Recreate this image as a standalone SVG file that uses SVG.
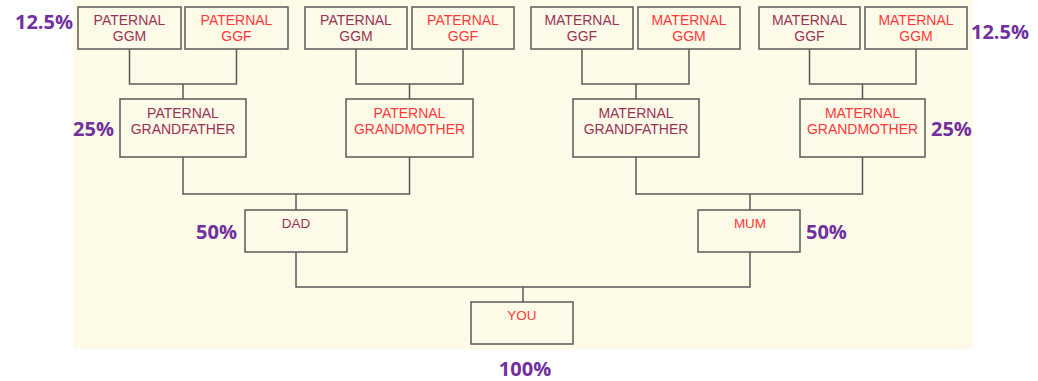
<svg xmlns="http://www.w3.org/2000/svg" width="1038" height="381" viewBox="0 0 1038 381">
<style>
.bx{fill:#FEFAE8;stroke:#5a5a5a;stroke-width:1.5}
.t{font-family:"Liberation Sans",Arial,sans-serif;font-size:14px;text-anchor:middle}
.s{font-size:13.5px}
.d{fill:#993355}
.r{fill:#FF3838}
.p{font-family:"Open Sans","Liberation Sans",sans-serif;font-weight:bold;font-size:20px;fill:#7030A0}
.e{text-anchor:end}
.m{text-anchor:middle}
.c{fill:none;stroke:#5a5a5a;stroke-width:1.5}
</style>
<rect x="73" y="0" width="900" height="349" fill="#FEFAE8"/>
<g id="connectors" class="c">
<path d="M129.5,49V84H236.5V49M183,84V99"/>
<path d="M356,49V84H463V49M409.5,84V99"/>
<path d="M582,49V84H689V49M636,84V99"/>
<path d="M809.5,49V84H916V49M862.5,84V99"/>
<path d="M183,157V194H409.5V157M296,194V210"/>
<path d="M636,157V194H862.5V157M750,194V210"/>
<path d="M296,252V287H750V252M523,287V302"/>
</g>
<g id="pggm1"><rect class="bx" x="78" y="7" width="103" height="42"/><text class="t d" x="129.5" y="25">PATERNAL</text><text class="t d" x="129.5" y="41">GGM</text></g>
<g id="pggf1"><rect class="bx" x="185" y="7" width="103" height="42"/><text class="t r" x="236.5" y="25">PATERNAL</text><text class="t r" x="236.5" y="41">GGF</text></g>
<g id="pggm2"><rect class="bx" x="305" y="7" width="102" height="42"/><text class="t d" x="356" y="25">PATERNAL</text><text class="t d" x="356" y="41">GGM</text></g>
<g id="pggf2"><rect class="bx" x="412" y="7" width="102" height="42"/><text class="t r" x="463" y="25">PATERNAL</text><text class="t r" x="463" y="41">GGF</text></g>
<g id="mggf1"><rect class="bx" x="531" y="7" width="102" height="42"/><text class="t d" x="582" y="25">MATERNAL</text><text class="t d" x="582" y="41">GGF</text></g>
<g id="mggm1"><rect class="bx" x="638" y="7" width="102" height="42"/><text class="t r" x="689" y="25">MATERNAL</text><text class="t r" x="689" y="41">GGM</text></g>
<g id="mggf2"><rect class="bx" x="759" y="7" width="101" height="42"/><text class="t d" x="809.5" y="25">MATERNAL</text><text class="t d" x="809.5" y="41">GGF</text></g>
<g id="mggm2"><rect class="bx" x="865" y="7" width="102" height="42"/><text class="t r" x="916" y="25">MATERNAL</text><text class="t r" x="916" y="41">GGM</text></g>
<g id="pgf"><rect class="bx" x="120" y="99" width="126" height="58"/><text class="t d" x="183" y="118">PATERNAL</text><text class="t d" x="183" y="134">GRANDFATHER</text></g>
<g id="pgm"><rect class="bx" x="346" y="99" width="127" height="58"/><text class="t r" x="409.5" y="118">PATERNAL</text><text class="t r" x="409.5" y="134">GRANDMOTHER</text></g>
<g id="mgf"><rect class="bx" x="573" y="99" width="126" height="58"/><text class="t d" x="636" y="118">MATERNAL</text><text class="t d" x="636" y="134">GRANDFATHER</text></g>
<g id="mgm"><rect class="bx" x="800" y="99" width="125" height="58"/><text class="t r" x="862.5" y="118">MATERNAL</text><text class="t r" x="862.5" y="134">GRANDMOTHER</text></g>
<g id="dad"><rect class="bx" x="245" y="210" width="102" height="42"/><text class="t s d" x="296" y="228">DAD</text></g>
<g id="mum"><rect class="bx" x="698" y="210" width="102" height="42"/><text class="t s r" x="750" y="228">MUM</text></g>
<g id="you"><rect class="bx" x="471" y="302" width="102" height="42"/><text class="t s r" x="522" y="320">YOU</text></g>
<g id="labels">
<text class="p e" x="73" y="29">12.5%</text>
<text class="p" x="971" y="39">12.5%</text>
<text class="p e" x="114" y="136">25%</text>
<text class="p" x="931" y="136">25%</text>
<text class="p e" x="237" y="239">50%</text>
<text class="p" x="806" y="239">50%</text>
<text class="p m" x="525" y="376">100%</text>
</g>
</svg>
